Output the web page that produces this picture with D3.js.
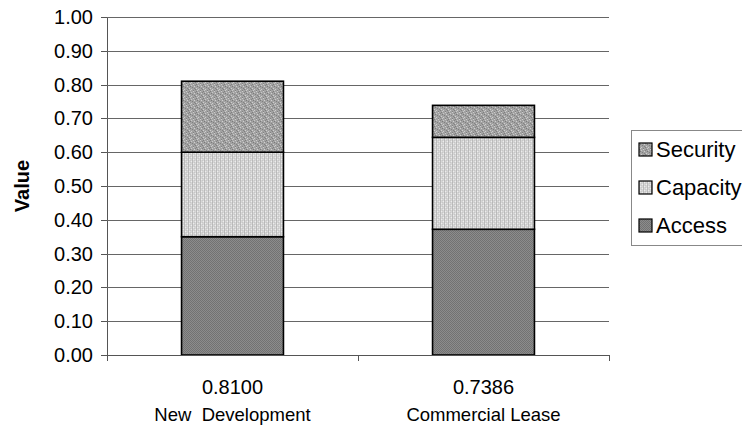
<!DOCTYPE html>
<html>
<head>
<meta charset="utf-8">
<script src="https://cdn.jsdelivr.net/npm/d3@7"></script>
<style>
  body { margin: 0; background: #fff; }
  svg { display: block; font-family: "Liberation Sans", Arial, sans-serif; }
</style>
</head>
<body>
<svg id="chart"></svg>
<script>
// data
const categories = ["New  Development", "Commercial Lease"];
const totalLabels = ["0.8100", "0.7386"];
const seriesNames = ["Access", "Capacity", "Security"];
const access = [0.35, 0.372];
const capacity = [0.25, 0.272];
const security = [0.21, 0.0946];
const yTicks = [0, 0.1, 0.2, 0.3, 0.4, 0.5, 0.6, 0.7, 0.8, 0.9, 1.0];

const width = 742;
const height = 427;
const marginLeft = 107; // plot area left
const marginRight = 133; // plot area right = 609
const marginTop = 17;
const marginBottom = 72; // baseline at 355

const rows = categories.map((c, i) => ({
  category: c,
  Access: access[i],
  Capacity: capacity[i],
  Security: security[i]
}));

const stack = d3.stack().keys(seriesNames);
const stacked = stack(rows);

const xScale = d3.scaleBand(categories, [marginLeft, width - marginRight])
  .paddingInner(0.594)
  .paddingOuter(0.297);
const yScale = d3.scaleLinear([0, 1], [height - marginBottom, marginTop]);

const svg = d3.select("#chart")
  .attr("width", width)
  .attr("height", height)
  .attr("viewBox", [0, 0, width, height]);

// fill patterns (pixel textures like the original)
const defs = svg.append("defs");
const pat = (id, size, bg, dots) => {
  const p = defs.append("pattern")
    .attr("id", id)
    .attr("patternUnits", "userSpaceOnUse")
    .attr("width", size)
    .attr("height", size);
  p.append("rect").attr("width", size).attr("height", size).attr("fill", bg);
  dots.forEach(([x, y, c]) =>
    p.append("rect").attr("x", x).attr("y", y).attr("width", 1).attr("height", 1).attr("fill", c)
  );
};
pat("pSecurity", 7, "#a2a2a2", [
  [0, 0, "#7e7e7e"], [4, 0, "#cccccc"], [2, 1, "#c8c8c8"], [6, 1, "#858585"],
  [1, 2, "#7a7a7a"], [5, 2, "#d0d0d0"], [3, 3, "#808080"], [0, 4, "#cfcfcf"],
  [5, 4, "#838383"], [2, 5, "#cdcdcd"], [6, 5, "#7f7f7f"], [4, 6, "#828282"], [1, 6, "#cacaca"]
]);
pat("pCapacity", 4, "#d6d6d6", [
  [0, 0, "#b8b8b8"], [0, 1, "#bdbdbd"], [0, 2, "#b8b8b8"], [0, 3, "#bdbdbd"],
  [2, 0, "#c6c6c6"], [2, 2, "#c6c6c6"], [1, 3, "#ececec"], [3, 1, "#ececec"]
]);
pat("pAccess", 2, "#8c8c8c", [[0, 0, "#727272"], [1, 1, "#727272"]]);
const fills = { Access: "url(#pAccess)", Capacity: "url(#pCapacity)", Security: "url(#pSecurity)" };

// gridlines + y axis
svg.append("g")
  .attr("transform", `translate(${marginLeft},0)`)
  .call(d3.axisLeft(yScale).tickValues(yTicks).tickFormat(d3.format(".2f")).tickSize(6).tickSizeOuter(0))
  .call((g) => g.select(".domain").attr("stroke", "#555").attr("d", `M0.5,${yScale(1)}V${yScale(0) + 5}`))
  .call((g) => g.selectAll(".tick line").attr("stroke", "#555"))
  .call((g) =>
    g.selectAll(".tick")
      .append("line")
      .attr("x2", width - marginLeft - marginRight)
      .attr("stroke", "#666")
  )
  .call((g) =>
    g.selectAll(".tick text")
      .attr("x", -14)
      .attr("fill", "#000")
      .style("font-size", "20px")
  )
  .attr("shape-rendering", "crispEdges");

// y label
svg.append("text")
  .attr("transform", `translate(29,${(yScale(0) + yScale(1)) / 2}) rotate(-90)`)
  .attr("text-anchor", "middle")
  .style("font-size", "20px")
  .style("font-weight", "bold")
  .text("Value");

// bars
svg.append("g")
  .selectAll("g")
  .data(stacked)
  .join("g")
  .attr("fill", (s) => fills[s.key])
  .selectAll("rect")
  .data((s) => s)
  .join("rect")
  .attr("x", (d) => xScale(d.data.category))
  .attr("y", (d) => yScale(d[1]))
  .attr("height", (d) => yScale(d[0]) - yScale(d[1]))
  .attr("width", xScale.bandwidth())
  .attr("stroke", "#000")
  .attr("stroke-width", 1.6);

// x axis: line with ticks at band boundaries
const x0 = marginLeft, x1 = width - marginRight, yb = yScale(0);
const bounds = [x0, ...categories.map((c) => xScale(c) + xScale.bandwidth() / 2 + xScale.step() / 2)];
const xAxis = svg.append("g").attr("stroke", "#555").attr("shape-rendering", "crispEdges");
xAxis.append("line").attr("x1", x0).attr("x2", x1).attr("y1", yb + 0.5).attr("y2", yb + 0.5);
xAxis.selectAll(".bt")
  .data(bounds)
  .join("line")
  .attr("x1", (d) => Math.round(d) + 0.5)
  .attr("x2", (d) => Math.round(d) + 0.5)
  .attr("y1", yb)
  .attr("y2", yb + 6);

// category labels
const labels = svg.append("g").attr("text-anchor", "middle").style("font-size", "18.5px");
labels.selectAll(".tot")
  .data(categories)
  .join("text")
  .attr("x", (c) => xScale(c) + xScale.bandwidth() / 2)
  .attr("y", 394)
  .style("font-size", "20px")
  .text((c, i) => totalLabels[i]);
labels.selectAll(".cat")
  .data(categories)
  .join("text")
  .attr("x", (c) => xScale(c) + xScale.bandwidth() / 2)
  .attr("y", 421)
  .style("white-space", "pre")
  .text((c) => c);

// legend (top series first)
const legend = svg.append("g");
legend.append("rect")
  .attr("x", 631.5)
  .attr("y", 130.5)
  .attr("width", 130)
  .attr("height", 115)
  .attr("fill", "#fff")
  .attr("stroke", "#888");
const items = legend.selectAll(".item")
  .data(seriesNames.slice().reverse())
  .join("g")
  .attr("transform", (d, i) => `translate(639,${149 + i * 38})`);
items.append("rect")
  .attr("y", -6)
  .attr("width", 13)
  .attr("height", 13)
  .attr("fill", (d) => fills[d])
  .attr("stroke", "#000")
  .attr("stroke-width", 1.2);
items.append("text")
  .attr("x", 17)
  .attr("dy", "0.36em")
  .style("font-size", "22px")
  .text((d) => d);
</script>
</body>
</html>
